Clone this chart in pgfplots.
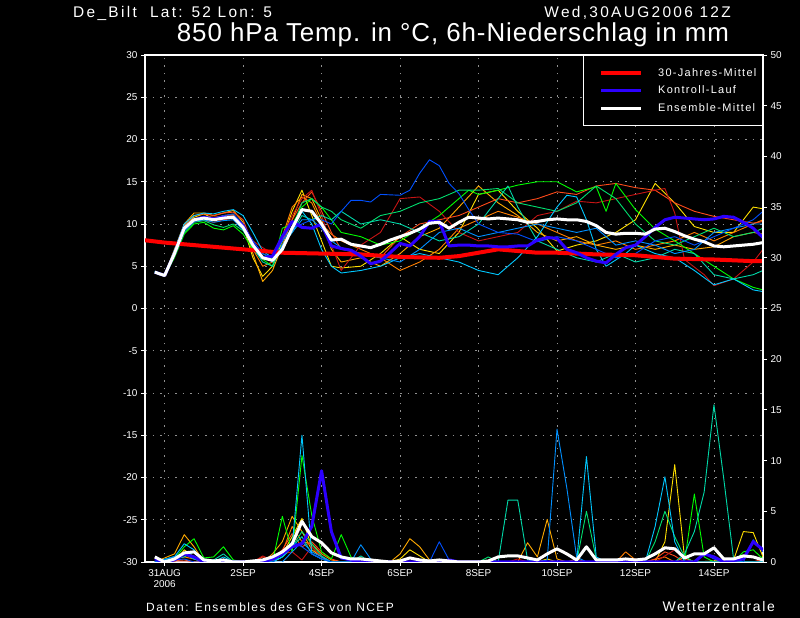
\documentclass[border=0pt]{standalone}
\usepackage{pgfplots}
\pgfplotsset{compat=1.18}
\usepackage{fontspec}
\setmainfont{Liberation Sans}
\newfontfamily\gfont{Liberation Sans}[LetterSpace=12]
\newfontfamily\hfont{Liberation Sans}[LetterSpace=15]
\newfontfamily\tfont{Liberation Sans}[LetterSpace=3.5]
\definecolor{cYel}{HTML}{FFE000}
\definecolor{cOra}{HTML}{FFAA00}
\definecolor{cDor}{HTML}{FF7F00}
\definecolor{cOrr}{HTML}{FF4A1A}
\definecolor{cDre}{HTML}{C81414}
\definecolor{cGre}{HTML}{00FF00}
\definecolor{cSpg}{HTML}{00E070}
\definecolor{cTea}{HTML}{00D8A8}
\definecolor{cCya}{HTML}{00C8FF}
\definecolor{cSky}{HTML}{0090FF}
\definecolor{cBlu}{HTML}{0050FF}
\definecolor{cCtl}{HTML}{2C00FF}
\definecolor{cRed}{HTML}{FF0000}
\definecolor{cGrid}{HTML}{909090}
\begin{document}
\begin{tikzpicture}[x=1bp,y=1bp]
\fill[black] (0,0) rectangle (800,618);
\path[use as bounding box] (0,0) rectangle (800,618);
\node[anchor=base west, text=white, inner sep=0, text height=11bp, text depth=1bp, font=\hfont\fontsize{15.5}{18}\selectfont] at (73,600) {De\_Bilt\ \ Lat: 52 Lon: 5};
\node[anchor=base east, text=white, inner sep=0, text height=11bp, text depth=1bp, font=\hfont\fontsize{15.5}{18}\selectfont] at (731,600) {Wed,30AUG2006 12Z};
\node[anchor=base, text=white, inner sep=0, text height=18bp, text depth=4bp, font=\tfont\fontsize{26}{29}\selectfont] at (453,576.5) {850 hPa Temp. in °C, 6h-Niederschlag in mm};
\node[anchor=base west, text=white, inner sep=0, font=\gfont\fontsize{12}{14}\selectfont] at (146,6) {Daten: Ensembles des GFS von NCEP};
\node[anchor=base east, text=white, inner sep=0, font=\gfont\fontsize{14}{16}\selectfont] at (775,6) {Wetterzentrale};

\begin{axis}[
  at={(145bp,56bp)}, anchor=south west,
  width=618bp, height=507bp, scale only axis,
  xmin=-0.5, xmax=15.25, ymin=-30, ymax=30,
  axis line style={white, line width=1.2bp},
  every tick/.style={white, line width=0.8bp},
  tick align=outside, major tick length=4bp,
  xtick={0,2,4,6,8,10,12,14},
  xticklabels={{31AUG\\2006},2SEP,4SEP,6SEP,8SEP,10SEP,12SEP,14SEP},
  xtick pos=bottom, ytick pos=left,
  ytick={-30,-25,...,30},
  tick label style={text=white, font=\fontsize{10}{11}\selectfont},
  xticklabel style={align=center},
  /pgf/number format/assume math mode=true,
  grid=major, grid style={cGrid, dash pattern=on 1.5bp off 6bp, line width=0.8bp},
  legend style={at={(1,1)}, anchor=north east, draw=white, fill=black, text=white,
    font=\gfont\fontsize{11}{12}\selectfont, line width=1.2bp, inner xsep=4bp, inner ysep=11bp,
    row sep=4bp, cells={anchor=west},
    /tikz/every odd column/.append style={column sep=13bp}},
  legend image code/.code={\path[draw=none, fill=none] (0bp,-2bp) rectangle (54bp,2bp); \draw[#1] (14bp,0bp) -- (54bp,0bp);},
  every axis plot/.append style={line join=round},
  mem/.style={line width=0.9bp, forget plot},
]
% members temperature
\addplot[mem, cYel] coordinates {(-0.25,4.3)(0,3.9)(0.25,6.8)(0.5,9.8)(0.75,10.8)(1,11.2)(1.25,10.6)(1.5,11.0)(1.75,11.1)(2,9.8)(2.25,6.0)(2.5,3.8)(2.75,5.0)(3,8.0)(3.25,11.5)(3.5,14.0)(3.75,11.0)(4,8.0)(4.25,5.0)(4.5,4.8)(5,5.0)(5.5,6.5)(6,8.5)(6.5,7.0)(7,6.5)(7.5,9.0)(8,13.5)(8.5,14.0)(9,11.5)(9.5,9.5)(10,6.8)(10.5,7.5)(11,8.0)(11.5,9.0)(12,10.5)(12.5,14.8)(13,12.5)(13.5,9.7)(14,9.0)(14.5,9.0)(15,12.0)(15.25,11.8)};
\addplot[mem, cOra] coordinates {(-0.25,4.3)(0,4.0)(0.25,7.0)(0.5,10.0)(0.75,11.3)(1,11.3)(1.25,11.0)(1.5,11.3)(1.75,11.6)(2,10.2)(2.25,6.5)(2.5,3.2)(2.75,4.5)(3,7.5)(3.25,10.5)(3.5,13.5)(3.75,13.0)(4,10.5)(4.25,7.0)(4.5,5.5)(5,6.0)(5.5,5.0)(6,6.5)(6.5,8.5)(7,9.5)(7.5,12.0)(8,14.5)(8.5,12.5)(9,11.0)(9.5,9.0)(10,8.0)(10.5,8.5)(11,7.5)(11.5,7.0)(12,7.5)(12.5,7.0)(13,7.5)(13.5,7.0)(14,7.3)(14.5,8.5)(15,9.0)(15.25,8.8)};
\addplot[mem, cDor] coordinates {(-0.25,4.2)(0,3.8)(0.25,6.4)(0.5,9.6)(0.75,10.6)(1,10.9)(1.25,10.8)(1.5,10.9)(1.75,11.0)(2,10.0)(2.25,7.0)(2.5,5.0)(2.75,5.5)(3,8.5)(3.25,12.0)(3.5,13.2)(3.75,12.5)(4,10.0)(4.25,8.8)(4.5,8.0)(5,7.0)(5.5,6.0)(6,4.5)(6.5,5.5)(7,7.0)(7.5,9.5)(8,10.5)(8.5,11.5)(9,10.8)(9.5,10.0)(10,9.0)(10.5,8.0)(11,7.5)(11.5,8.0)(12,7.0)(12.5,7.5)(13,8.0)(13.5,9.0)(14,8.0)(14.5,9.0)(15,10.0)(15.25,10.5)};
\addplot[mem, cOrr] coordinates {(-0.25,4.3)(0,3.9)(0.25,6.6)(0.5,9.9)(0.75,11.0)(1,11.2)(1.25,11.0)(1.5,11.3)(1.75,11.4)(2,10.5)(2.25,7.5)(2.5,6.0)(2.75,6.3)(3,8.0)(3.25,10.5)(3.5,12.5)(3.75,13.8)(4,11.5)(4.25,9.0)(4.5,7.0)(5,6.5)(5.5,6.0)(6,8.5)(6.5,10.0)(7,10.5)(7.5,11.0)(8,12.0)(8.5,13.0)(9,12.5)(9.5,13.0)(10,13.8)(10.5,13.5)(11,14.5)(11.5,14.8)(12,14.3)(12.5,14.0)(13,12.5)(13.5,11.5)(14,10.9)(14.5,10.5)(15,10.1)(15.25,10.3)};
\addplot[mem, cDre] coordinates {(-0.25,4.3)(0,4.0)(0.25,6.3)(0.5,9.3)(0.75,10.3)(1,10.4)(1.25,10.2)(1.5,10.5)(1.75,10.7)(2,9.8)(2.25,8.0)(2.5,7.2)(2.75,6.5)(3,8.5)(3.25,11.0)(3.5,13.0)(3.75,14.0)(4,11.0)(4.25,7.5)(4.5,4.5)(5,7.5)(5.5,9.0)(6,13.0)(6.5,13.2)(7,11.5)(7.5,9.0)(8,8.0)(8.5,8.5)(9,9.0)(9.5,11.0)(10,11.5)(10.5,12.7)(11,12.5)(11.5,13.0)(12,13.5)(12.5,14.0)(12.75,14.2)(13,11.3)(13.25,5.8)(13.75,4.0)(14,2.7)(14.5,3.5)(15,5.5)(15.25,7.0)};
\addplot[mem, cGre] coordinates {(-0.25,4.2)(0,3.8)(0.25,6.0)(0.5,8.8)(0.75,10.0)(1,10.2)(1.25,9.5)(1.5,9.3)(1.75,9.8)(2,8.8)(2.25,7.0)(2.5,5.8)(2.75,5.0)(3,9.5)(3.25,10.0)(3.5,12.0)(3.75,13.0)(4,12.0)(4.25,10.5)(4.5,9.0)(5,8.5)(5.5,7.5)(6,8.0)(6.5,9.5)(7,11.0)(7.5,13.0)(7.75,14.0)(8,13.5)(8.5,14.0)(9,14.6)(9.5,15.0)(10,15.0)(10.5,13.8)(11,14.4)(11.25,11.5)(11.5,14.8)(12,11.7)(12.5,9.4)(13,8.0)(13.5,6.5)(14,5.0)(14.5,3.5)(15,2.5)(15.25,2.2)};
\addplot[mem, cSpg] coordinates {(-0.25,4.3)(0,3.9)(0.25,6.2)(0.5,9.0)(0.75,10.2)(1,10.4)(1.25,9.9)(1.5,9.6)(1.75,10.0)(2,9.2)(2.25,7.5)(2.5,6.5)(2.75,5.8)(3,8.0)(3.25,9.5)(3.5,12.5)(3.75,13.0)(4,12.0)(4.25,11.5)(4.5,10.5)(5,9.5)(5.5,11.0)(6,11.5)(6.5,12.5)(7,13.0)(7.5,14.0)(8,14.0)(8.5,14.2)(9,12.5)(9.5,12.0)(10,11.5)(10.5,12.5)(11,14.5)(11.5,13.0)(12,10.0)(12.5,8.0)(13,7.5)(13.5,8.5)(14,9.5)(14.5,8.5)(15,9.0)(15.25,9.5)};
\addplot[mem, cTea] coordinates {(-0.25,4.3)(0,3.9)(0.25,6.5)(0.5,9.4)(0.75,10.5)(1,10.6)(1.25,10.5)(1.5,10.8)(1.75,10.6)(2,9.5)(2.25,7.2)(2.5,5.5)(2.75,5.0)(3,7.5)(3.25,9.0)(3.5,11.0)(3.75,10.5)(4,11.0)(4.25,10.5)(4.5,11.5)(5,10.0)(5.5,10.5)(6,10.0)(6.5,9.0)(7,8.0)(7.5,8.5)(8,10.0)(8.5,13.0)(8.75,14.5)(9,12.0)(9.5,8.0)(10,7.0)(10.5,6.0)(11,5.5)(11.5,6.5)(12,5.5)(12.5,6.0)(13,7.0)(13.5,6.5)(14,4.0)(14.5,3.5)(15,4.0)(15.25,4.5)};
\addplot[mem, cCya] coordinates {(-0.25,4.4)(0,4.0)(0.25,6.9)(0.5,10.0)(0.75,11.0)(1,11.3)(1.25,11.2)(1.5,11.5)(1.75,11.7)(2,11.0)(2.25,9.0)(2.5,6.8)(2.75,6.0)(3,7.0)(3.25,9.5)(3.5,11.5)(3.75,10.0)(4,7.0)(4.25,5.0)(4.5,4.2)(5,4.5)(5.5,5.0)(6,6.0)(6.5,6.5)(7,6.0)(7.5,5.5)(8,4.5)(8.5,4.0)(9,6.0)(9.5,8.5)(10,12.0)(10.25,13.4)(10.5,13.2)(10.75,10.5)(11,7.0)(11.25,5.0)(11.75,6.5)(12,7.5)(12.5,6.5)(13,6.0)(13.5,4.5)(14,2.8)(14.5,3.5)(15,2.2)(15.25,2.0)};
\addplot[mem, cSky] coordinates {(-0.25,4.3)(0,3.9)(0.25,6.4)(0.5,9.2)(0.75,10.3)(1,10.5)(1.25,10.2)(1.5,10.4)(1.75,10.5)(2,9.3)(2.25,7.5)(2.5,6.2)(2.75,5.5)(3,7.5)(3.25,9.0)(3.5,10.5)(3.75,10.5)(4,9.5)(4.25,8.0)(4.5,7.2)(5,6.5)(5.5,6.0)(6,5.5)(6.5,7.0)(7,9.0)(7.5,9.5)(8,8.5)(8.5,9.0)(9,9.5)(9.5,10.0)(10,9.5)(10.5,9.0)(11,9.5)(11.5,7.5)(12,8.0)(12.5,7.5)(13,6.5)(13.5,7.0)(14,9.0)(14.5,9.5)(15,10.0)(15.25,10.0)};
\addplot[mem, cBlu] coordinates {(-0.25,4.2)(0,3.9)(0.25,6.6)(0.5,9.6)(0.75,10.6)(1,10.9)(1.25,10.7)(1.5,11.0)(1.75,11.2)(2,10.0)(2.25,8.0)(2.5,6.5)(2.75,6.0)(3,8.0)(3.25,9.5)(3.5,10.0)(3.75,10.5)(4,10.5)(4.25,10.0)(4.5,11.5)(4.75,12.8)(5,12.8)(5.25,12.6)(5.5,13.5)(6,13.4)(6.25,14.0)(6.5,16.0)(6.75,17.6)(7,16.9)(7.25,14.8)(7.5,13.6)(7.75,11.7)(8,10.0)(8.5,9.0)(9,8.8)(9.5,7.9)(10,8.5)(10.5,8.0)(11,7.0)(11.5,6.0)(12,6.5)(12.5,8.0)(13,8.5)(13.5,7.5)(14,8.5)(14.5,9.5)(15,10.5)(15.25,11.5)};
% 30-year mean
\addplot[cRed, line width=4bp] coordinates {(-0.55,8.1)(0,7.8)(1,7.4)(2,7.0)(3,6.6)(4,6.5)(5,6.4)(6,6.1)(7,6.0)(7.5,6.2)(8,6.6)(8.5,7.0)(9,6.8)(9.5,6.6)(10,6.6)(11,6.4)(12,6.3)(13,5.9)(14,5.8)(15,5.6)(15.3,5.6)};
\addlegendentry{30-Jahres-Mittel}
% control
\addplot[cCtl, line width=3bp] coordinates {(-0.25,4.3)(0,3.9)(0.25,6.5)(0.5,9.5)(0.75,10.5)(1,10.8)(1.25,10.6)(1.5,10.8)(1.75,10.8)(2,9.8)(2.25,7.6)(2.5,6.0)(2.75,6.2)(3,8.5)(3.25,10.3)(3.5,9.6)(3.75,9.5)(4,10.0)(4.25,7.4)(4.5,7.1)(4.75,6.9)(5,6.2)(5.25,5.3)(5.5,5.6)(5.75,6.6)(6,7.7)(6.25,7.4)(6.5,8.5)(6.75,10.3)(7,10.3)(7.25,7.4)(7.5,7.5)(7.75,7.5)(8,7.4)(8.25,7.4)(8.5,7.3)(8.75,7.3)(9,7.4)(9.25,7.4)(9.5,8.1)(9.75,8.4)(10,8.3)(10.25,7.0)(10.5,6.6)(10.75,6.0)(11,5.6)(11.25,5.4)(11.5,6.4)(11.75,7.2)(12,7.5)(12.25,8.5)(12.5,9.6)(12.75,10.5)(13,10.8)(13.25,10.7)(13.5,10.6)(13.75,10.5)(14,10.6)(14.25,10.9)(14.5,10.8)(14.75,10.2)(15,9.5)(15.25,8.4)};
\addlegendentry{Kontroll-Lauf}
% ensemble mean
\addplot[white, line width=3bp] coordinates {(-0.25,4.3)(0,3.9)(0.25,6.5)(0.5,9.5)(0.75,10.5)(1,10.7)(1.25,10.5)(1.5,10.7)(1.75,10.8)(2,9.6)(2.25,7.5)(2.5,6.0)(2.75,5.7)(3,7.0)(3.25,9.5)(3.5,11.7)(3.75,11.5)(4,10.0)(4.25,8.1)(4.5,8.2)(4.75,7.6)(5,7.4)(5.25,7.2)(5.5,7.6)(5.75,8.1)(6,8.5)(6.25,8.9)(6.5,9.4)(6.75,10.1)(7,10.2)(7.25,9.5)(7.5,10.2)(7.75,10.8)(8,10.7)(8.25,10.6)(8.5,10.7)(8.75,10.6)(9,10.5)(9.25,10.2)(9.5,10.3)(9.75,10.5)(10,10.6)(10.25,10.5)(10.5,10.5)(10.75,10.3)(11,9.8)(11.25,9.0)(11.5,8.8)(11.75,8.9)(12,8.9)(12.25,8.8)(12.5,9.4)(12.75,9.5)(13,9.1)(13.25,8.6)(13.5,8.2)(13.75,7.9)(14,7.4)(14.25,7.3)(14.5,7.4)(14.75,7.5)(15,7.6)(15.25,7.8)};
\addlegendentry{Ensemble-Mittel}
\end{axis}

\begin{axis}[
  at={(145bp,56bp)}, anchor=south west,
  width=618bp, height=507bp, scale only axis,
  xmin=-0.5, xmax=15.25, ymin=0, ymax=50,
  axis x line=none, axis y line*=right,
  axis line style={white, line width=1.2bp},
  every tick/.style={white, line width=0.8bp},
  tick align=outside, major tick length=4bp,
  ytick={0,5,...,50},
  tick label style={text=white, font=\fontsize{10}{11}\selectfont},
  /pgf/number format/assume math mode=true,
  every axis plot/.append style={line join=round},
  mem/.style={line width=0.9bp},
]
\addplot[mem, cYel] coordinates {(-0.25,0)(0.25,0)(0.5,1.2)(0.75,0.5)(1,0)(2.75,0)(3,0.8)(3.25,2.5)(3.5,4.3)(3.75,1.5)(4,0.5)(4.25,0)(5.75,0)(6,0.3)(6.25,1.2)(6.5,0.6)(6.75,0)(9.5,0)(9.75,0.3)(10,0)(12.5,0)(12.75,2.0)(13,9.6)(13.25,0.4)(13.5,0)(14.5,0.2)(14.75,3.0)(15,2.9)(15.25,0.5)};
\addplot[mem, cOra] coordinates {(-0.25,0)(0.25,0.8)(0.5,2.7)(0.75,1.5)(1,0)(2.5,0)(2.75,0.8)(3,2.0)(3.25,4.5)(3.5,3.0)(3.75,1.2)(4,0.5)(4.25,0)(5.75,0)(6,0.8)(6.25,2.3)(6.5,1.5)(6.75,0.2)(7,0)(9,0)(9.25,1.9)(9.5,0.5)(9.75,4.2)(10,0.3)(10.25,0)(13,0)(13.25,0.5)(13.5,0)(15.25,0)};
\addplot[mem, cDor] coordinates {(-0.25,0)(0.5,0.5)(0.75,0.3)(1,0)(2.75,0)(3,1.0)(3.25,3.5)(3.5,2.0)(3.75,1.8)(4,0.8)(4.25,0.2)(4.5,0)(4.75,0)(5,0.4)(5.25,0.3)(5.5,0)(10.25,0)(10.5,0.3)(10.75,0)(11.5,0)(11.75,1.0)(12,0.2)(12.25,0)(12.75,0.5)(13,0)(15.25,0)};
\addplot[mem, cOrr] coordinates {(-0.25,0)(0.5,0.2)(0.75,0)(2.25,0)(2.5,0.5)(2.75,0.3)(3,1.2)(3.25,2.8)(3.5,1.5)(3.75,2.0)(4,1.0)(4.25,0.3)(4.5,0)(11.75,0)(12,0.3)(12.25,0)(12.5,0.3)(12.75,1.0)(13,0.6)(13.25,0)(15,0)(15.25,0.3)};
\addplot[mem, cDre] coordinates {(-0.25,0)(2.25,0)(2.5,0.6)(2.75,0.1)(3,0.8)(3.25,1.0)(3.5,0.2)(3.75,1.5)(4,0.5)(4.25,0)(8.75,0)(9,0.3)(9.25,0)(12.5,0)(12.75,0.6)(13,1.2)(13.25,0.3)(13.5,0)(15,0)(15.25,0.2)};
\addplot[mem, cGre] coordinates {(-0.25,0)(0.25,0.3)(0.5,1.5)(0.75,2.3)(1,0.4)(1.25,0.5)(1.5,1.5)(1.75,0.2)(2,0)(2.75,0)(3,4.5)(3.25,1.0)(3.5,10.5)(3.75,4.6)(4,1.0)(4.25,0.3)(4.5,2.7)(4.75,0.5)(5,0)(5.25,0.2)(5.5,0)(13.25,0)(13.5,6.7)(13.75,0.5)(14,0)(14.5,0)(14.75,1.0)(15,1.2)(15.25,0.3)};
\addplot[mem, cSpg] coordinates {(-0.25,0)(0.5,0.8)(0.75,0.3)(1,0)(2.75,0)(3,0.5)(3.25,1.5)(3.5,3.0)(3.75,1.8)(4,0.6)(4.25,0)(8,0)(8.25,0.5)(8.5,0)(10.5,0)(10.75,5.0)(11,0.3)(11.25,0)(12.25,0)(12.5,2.0)(12.75,5.0)(13,2.5)(13.25,0.5)(13.5,0)(15.25,0)};
\addplot[mem, cTea] coordinates {(-0.25,0)(0.5,0.5)(0.75,1.0)(1,0.3)(1.25,0.2)(1.5,0.8)(1.75,0)(2.75,0)(3,0.5)(3.25,1.5)(3.5,2.5)(3.75,0.8)(4,0.3)(4.25,0)(4.75,0)(5,0.6)(5.25,0)(8.5,0)(8.75,6.1)(9,6.1)(9.25,0.2)(9.5,0)(13,0)(13.25,0.8)(13.5,3.0)(13.75,6.9)(14,15.5)(14.25,8.2)(14.5,0.3)(14.75,0)(15.25,0)};
\addplot[mem, cCya] coordinates {(-0.25,0)(0.25,0.5)(0.5,1.8)(0.75,1.2)(1,0)(1.25,0)(1.5,0.5)(1.75,0)(2.75,0)(3,0.5)(3.25,1.5)(3.5,12.5)(3.75,0.8)(4,0.3)(4.25,0)(10.5,0)(10.75,10.4)(11,0.5)(11.25,0)(12.25,0)(12.5,3.5)(12.75,8.4)(13,2.0)(13.25,0)(15.25,0)};
\addplot[mem, cSky] coordinates {(-0.25,0)(0.5,0.8)(0.75,0.3)(1,0)(3,0)(3.25,1.0)(3.5,2.0)(3.75,1.0)(4,0.5)(4.25,0)(4.75,0)(5,1.7)(5.25,0.3)(5.5,0)(9.5,0)(9.75,0.2)(10,13.1)(10.25,7.3)(10.5,0.5)(10.75,0)(15.25,0)};
\addplot[mem, cBlu] coordinates {(-0.25,0)(0.5,0.3)(0.75,0)(2.75,0)(3,0.8)(3.25,2.0)(3.5,1.5)(3.75,0.8)(4,0.3)(4.25,0)(6.75,0)(7,2.0)(7.25,0.2)(7.5,0)(13.5,0)(13.75,0.8)(14,0.3)(14.25,0)(14.75,0)(15,2.2)(15.25,1.0)};
\addplot[cCtl, line width=3bp] coordinates {(-0.25,0.3)(0,0)(0.25,0.2)(0.5,0.8)(0.75,0.5)(1,0)(2.5,0)(2.75,0.3)(3,0.8)(3.25,1.5)(3.5,1.8)(3.75,3.5)(4,9.0)(4.25,3.0)(4.5,0.4)(4.75,0.2)(5,0)(7,0)(7.25,0.2)(7.5,0)(13.5,0)(13.75,0.8)(14,0.5)(14.25,0)(14.75,0.3)(15,2.0)(15.25,1.2)};
\addplot[white, line width=3bp] coordinates {(-0.25,0.5)(0,0.0)(0.25,0.3)(0.5,0.9)(0.75,1.0)(1,0.2)(1.25,0.1)(1.5,0.2)(1.75,0.0)(2,0.0)(2.25,0.1)(2.5,0.2)(2.75,0.5)(3,1.0)(3.25,1.8)(3.5,4.0)(3.75,2.5)(4,1.9)(4.25,0.9)(4.5,0.5)(4.75,0.3)(5,0.3)(5.25,0.2)(5.5,0.1)(5.75,0.0)(6,0.1)(6.25,0.4)(6.5,0.2)(6.75,0.1)(7,0.2)(7.25,0.1)(7.5,0.0)(7.75,0.0)(8,0.0)(8.25,0.1)(8.5,0.5)(8.75,0.6)(9,0.6)(9.25,0.4)(9.5,0.2)(9.75,0.8)(10,1.3)(10.25,0.8)(10.5,0.2)(10.75,1.5)(11,0.2)(11.25,0.2)(11.5,0.2)(11.75,0.3)(12,0.2)(12.25,0.3)(12.5,0.8)(12.75,1.4)(13,1.3)(13.25,0.4)(13.5,0.8)(13.75,0.8)(14,1.4)(14.25,0.3)(14.5,0.3)(14.75,0.6)(15,0.5)(15.25,0.2)};
\end{axis}
\end{tikzpicture}
\end{document}
